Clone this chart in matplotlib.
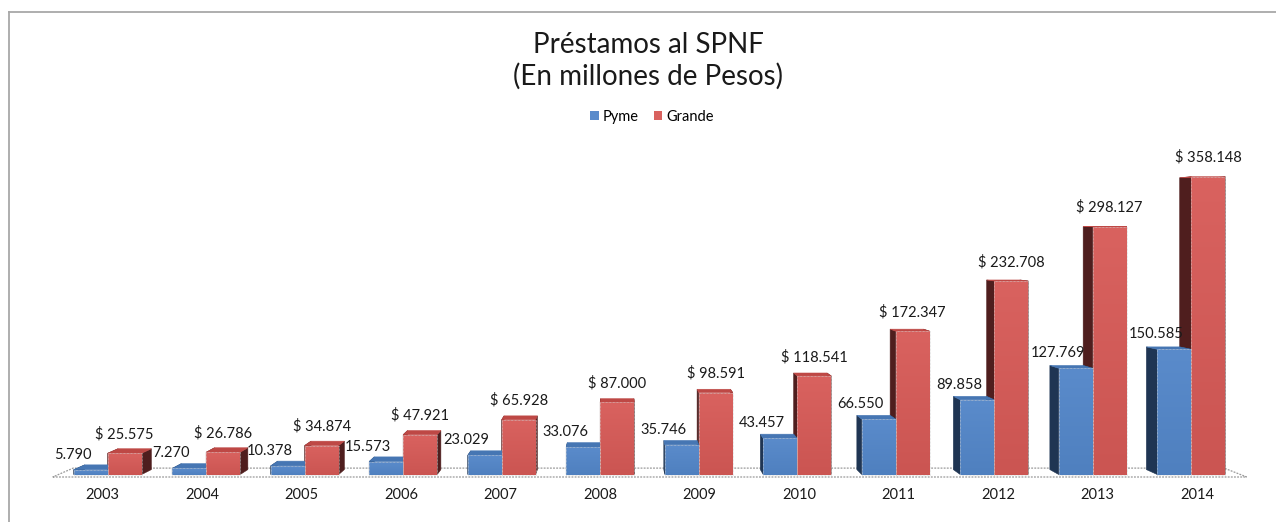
import matplotlib
matplotlib.use("Agg")
import matplotlib.pyplot as plt
from matplotlib.patches import Polygon
from matplotlib.lines import Line2D
from matplotlib.colors import LinearSegmentedColormap
import numpy as np

# ---------------- data ----------------
years = ["2003", "2004", "2005", "2006", "2007", "2008",
         "2009", "2010", "2011", "2012", "2013", "2014"]
pyme = [5.790, 7.270, 10.378, 15.573, 23.029, 33.076,
        35.746, 43.457, 66.550, 89.858, 127.769, 150.585]
grande = [25.575, 26.786, 34.874, 47.921, 65.928, 87.000,
          98.591, 118.541, 172.347, 232.708, 298.127, 358.148]
series_names = ["Pyme", "Grande"]
title_text = "Préstamos al SPNF\n(En millones de Pesos)"


def fmt_val(v):
    return f"{v:.3f}"


# ---------------- style ----------------
FONT = "Lato"
plt.rcParams["font.family"] = [FONT, "DejaVu Sans"]

blue_front = "#5A8BCB"
blue_front_dark = "#4F80BF"
blue_top = "#4676B3"
blue_side = "#1F3553"
red_front = "#D9625F"
red_front_dark = "#CB5552"
red_top = "#BE4845"
red_side = "#4F1E1E"
edge_col = "#D0D0D0"

W, H = 1276, 522
fig = plt.figure(figsize=(W / 100, H / 100), dpi=100)
ax = fig.add_axes([0, 0, 1, 1])
ax.set_axis_off()

# pixel mapping helpers (layout only)
x0_px, step_px = 102.5, 99.5
floor_px, k_px = 477.0, 0.84
ax.set_xlim((0 - x0_px) / step_px, (W - x0_px) / step_px)
ax.set_ylim((floor_px - H) / k_px, floor_px / k_px)

# perspective (vanishing point) in data coords
xv = (620 - x0_px) / step_px
yv = (floor_px - 230) / k_px
t0, t1 = 0.010, 0.030      # bar front / back depth
tf = 0.036                 # floor depth


def proj(x, y, t):
    return (x + t * (xv - x), y + t * (yv - y))


def bar_faces(xa, xb, h):
    front = [proj(xa, 0, t0), proj(xb, 0, t0), proj(xb, h, t0), proj(xa, h, t0)]
    top = [proj(xa, h, t0), proj(xb, h, t0), proj(xb, h, t1), proj(xa, h, t1)]
    left = [proj(xa, 0, t0), proj(xa, h, t0), proj(xa, h, t1), proj(xa, 0, t1)]
    right = [proj(xb, 0, t0), proj(xb, h, t0), proj(xb, h, t1), proj(xb, 0, t1)]
    return front, top, left, right


cmap_blue = LinearSegmentedColormap.from_list("b", [blue_front_dark, blue_front])
cmap_red = LinearSegmentedColormap.from_list("r", [red_front_dark, red_front])
grad = np.linspace(0, 1, 64).reshape(-1, 1)


def gradient_front(poly, cmap, z):
    patch = Polygon(poly, closed=True, facecolor="none", edgecolor=edge_col,
                    lw=0.5, ls=(0, (1, 1)), zorder=z + 0.005)
    ax.add_patch(patch)
    xs = [p[0] for p in poly]
    ys = [p[1] for p in poly]
    im = ax.imshow(grad, cmap=cmap, aspect="auto", origin="lower",
                   extent=(min(xs), max(xs), min(ys), max(ys)), zorder=z,
                   interpolation="bilinear")
    im.set_clip_path(patch)


# floor
n = len(years)
fl = [proj(-0.5, 0, 0), proj(n - 0.5, 0, 0), proj(n - 0.5, 0, tf), proj(-0.5, 0, tf)]
ax.add_patch(Polygon(fl, closed=True, facecolor="white", edgecolor="#9A9A9A",
                     lw=0.9, ls=(0, (1.5, 1.0)), zorder=1))

bw = 0.345
for i in range(n):
    fb, tb, lb, rb = bar_faces(i - bw, i, pyme[i])
    fr, tr, lr, rr = bar_faces(i, i + bw, grande[i])
    z = 2
    for poly, col in [(lr, red_side), (rr, red_side), (lb, blue_side), (rb, blue_side),
                      (tr, red_top), (tb, blue_top)]:
        ax.add_patch(Polygon(poly, closed=True, facecolor=col, edgecolor=col,
                             lw=0.4, zorder=z))
        z += 0.01
    gradient_front(fr, cmap_red, z)
    gradient_front(fb, cmap_blue, z + 0.01)

    # data labels
    bx, by = proj(i - bw / 2, pyme[i], t0)
    ax.annotate(fmt_val(pyme[i]), (bx, by), xytext=(-18, 15),
                textcoords="offset pixels", ha="center", va="center",
                fontsize=10.5, color="#1A1A1A", zorder=10)
    rx, ry = proj(i + bw / 2, grande[i], t0)
    ax.annotate("$ " + fmt_val(grande[i]), (rx, ry), xytext=(0, 19),
                textcoords="offset pixels", ha="center", va="center",
                fontsize=10.5, color="#1A1A1A", zorder=10)

    # category labels
    ax.text(i, (floor_px - 495) / k_px, years[i], ha="center", va="center",
            fontsize=10.5, color="#1A1A1A")

# title
fig.text(648 / W, 1 - 61 / H, title_text, ha="center", va="center",
         fontsize=20, color="#1A1A1A", linespacing=1.2)

# legend
handles = [Polygon([[0, 0]], facecolor=blue_front, edgecolor="none"),
           Polygon([[0, 0]], facecolor=red_front, edgecolor="none")]
fig.legend(handles, series_names, loc="center", bbox_to_anchor=(652 / W, 1 - 117 / H),
           ncol=2, frameon=False, fontsize=10.5, handlelength=0.6, handleheight=0.6,
           handletextpad=0.3, columnspacing=1.0)

# chart border (left and top visible)
fig.add_artist(Line2D([9 / W, 9 / W], [0, 1 - 12 / H], transform=fig.transFigure,
                      color="#A8A8A8", lw=1.3))
fig.add_artist(Line2D([9 / W, 1], [1 - 12 / H, 1 - 12 / H], transform=fig.transFigure,
                      color="#A8A8A8", lw=1.3))

fig.savefig("out.png", dpi=100, facecolor="white")
